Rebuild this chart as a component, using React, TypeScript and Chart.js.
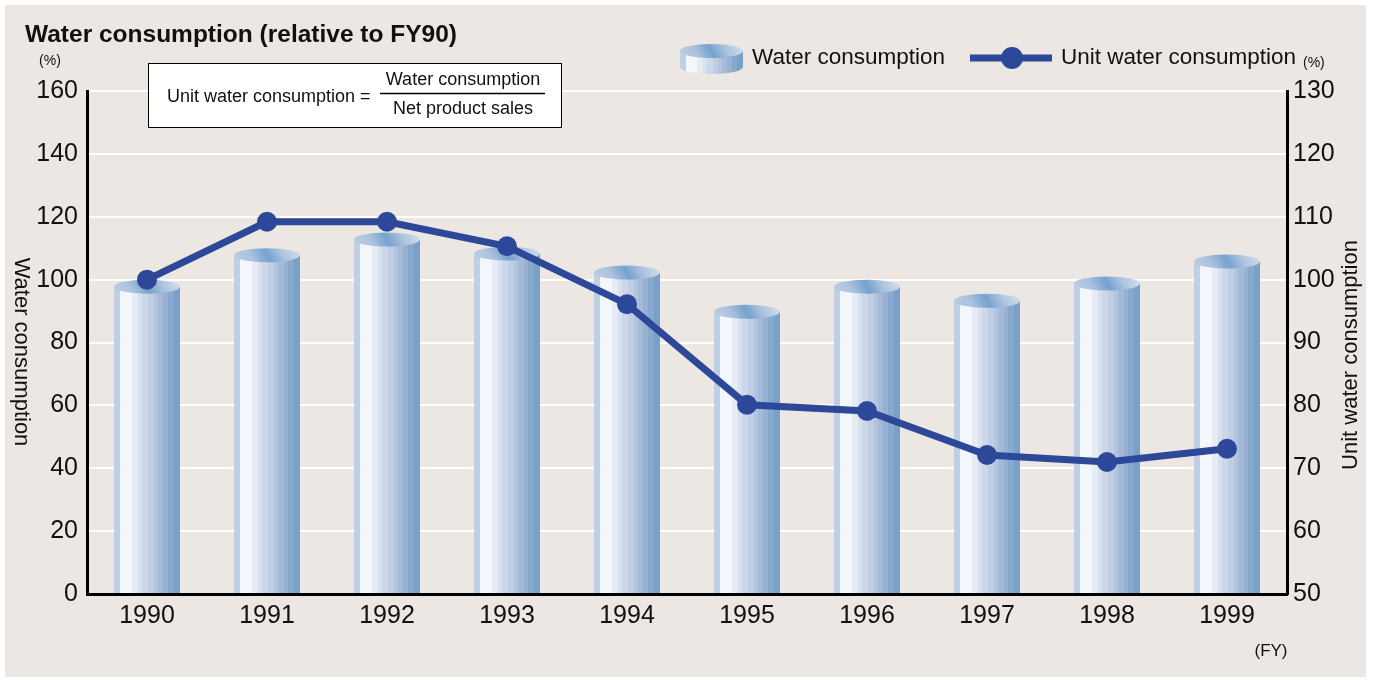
import React, { useEffect, useRef } from 'react';
import { Chart, registerables } from 'chart.js';

Chart.register(...registerables);

// ---- data ----
const years = ['1990', '1991', '1992', '1993', '1994', '1995', '1996', '1997', '1998', '1999'];
const waterConsumption = [100, 110, 115, 110.5, 104.5, 92, 100, 95.5, 101, 108];
const unitWaterConsumption = [100, 109.2, 109.2, 105.3, 96.1, 80.1, 79.1, 72.1, 71.0, 73.1];
const waterAxisRange = [0, 160, 20];
const unitAxisRange = [50, 130, 10];

// ---- styles ----
const FONT = '"Liberation Sans", Arial, Helvetica, sans-serif';
const BG = '#ece7e3';
const LINE = '#2e4899';
const TEXT = '#111111';

const bodyColors = ['#bfcfe4', '#f3f6fa', '#e7ecf4', '#d9e1ee', '#ccd7e9', '#c0cde4', '#b2c4de', '#a5bad8', '#97b1d2', '#89a8cd', '#78a0c9'];
const bodyEdges = [0, 0.09, 0.27, 0.36, 0.43, 0.52, 0.6, 0.67, 0.75, 0.82, 0.91, 1];

function drawCylinder(ctx: CanvasRenderingContext2D, cx: number, top: number, bottom: number, w: number, ry: number, bottomCurve: boolean) {
  const rx = w / 2;
  const left = cx - rx;
  const right = cx + rx;
  const cy = top + ry;
  const g = ctx.createLinearGradient(left, 0, right, 0);
  bodyColors.forEach((c, i) => {
    g.addColorStop(bodyEdges[i], c);
    g.addColorStop(bodyEdges[i + 1], c);
  });
  ctx.beginPath();
  ctx.moveTo(left, cy);
  ctx.lineTo(left, bottom);
  if (bottomCurve) {
    ctx.ellipse(cx, bottom, rx, ry, 0, Math.PI, 0, true);
  } else {
    ctx.lineTo(right, bottom);
  }
  ctx.lineTo(right, cy);
  ctx.closePath();
  ctx.fillStyle = g;
  ctx.fill();

  const tg = ctx.createLinearGradient(left, cy + ry * 2.5, right, cy - ry * 2.5);
  tg.addColorStop(0, '#c3d2e6');
  tg.addColorStop(0.3, '#abc2de');
  tg.addColorStop(0.5, '#76a2ce');
  tg.addColorStop(0.7, '#afc5df');
  tg.addColorStop(1, '#e2e8f1');
  ctx.beginPath();
  ctx.ellipse(cx, cy, rx, ry, 0, 0, Math.PI * 2);
  ctx.fillStyle = tg;
  ctx.fill();
}

const backgroundPlugin = {
  id: 'bgPanel',
  beforeDraw(chart: any) {
    const ctx = chart.ctx as CanvasRenderingContext2D;
    ctx.save();
    ctx.fillStyle = '#ffffff';
    ctx.fillRect(0, 0, chart.width, chart.height);
    ctx.fillStyle = BG;
    ctx.fillRect(5, 5, 1361, 672);
    ctx.restore();
  },
};

const cylinderPlugin = {
  id: 'cylinders',
  beforeDatasetDraw(chart: any, args: any) {
    const ds = chart.data.datasets[args.index];
    if (ds.type !== 'bar') return;
    const ctx = chart.ctx as CanvasRenderingContext2D;
    ctx.save();
    args.meta.data.forEach((el: any) => {
      const p = el.getProps(['x', 'y', 'base', 'width'], true);
      drawCylinder(ctx, p.x, p.y, p.base, p.width, 7, false);
    });
    ctx.restore();
    return false;
  },
};

const decorPlugin = {
  id: 'decor',
  afterDraw(chart: any) {
    const ctx = chart.ctx as CanvasRenderingContext2D;
    ctx.save();
    ctx.fillStyle = TEXT;
    ctx.textBaseline = 'middle';

    // title
    ctx.font = `bold 24.5px ${FONT}`;
    ctx.textAlign = 'left';
    ctx.fillText('Water consumption (relative to FY90)', 25, 35);

    // (%) left
    ctx.font = `14px ${FONT}`;
    ctx.textAlign = 'center';
    ctx.fillText('(%)', 50, 61);

    // formula box
    ctx.fillStyle = '#ffffff';
    ctx.fillRect(148, 63, 414, 65);
    ctx.strokeStyle = '#000000';
    ctx.lineWidth = 1;
    ctx.strokeRect(148.5, 63.5, 413, 64);
    ctx.fillStyle = TEXT;
    ctx.font = `18px ${FONT}`;
    ctx.textAlign = 'left';
    ctx.fillText('Unit water consumption =', 167, 97);
    ctx.textAlign = 'center';
    ctx.fillText('Water consumption', 463, 80);
    ctx.fillText('Net product sales', 463, 109);
    ctx.beginPath();
    ctx.moveTo(380, 93.5);
    ctx.lineTo(545, 93.5);
    ctx.lineWidth = 1.5;
    ctx.strokeStyle = '#000000';
    ctx.stroke();

    // legend
    drawCylinder(ctx, 711.5, 44, 67, 63, 7, true);
    ctx.fillStyle = TEXT;
    ctx.font = `22.5px ${FONT}`;
    ctx.textAlign = 'left';
    ctx.fillText('Water consumption', 752, 58);
    ctx.beginPath();
    ctx.moveTo(970, 58);
    ctx.lineTo(1052, 58);
    ctx.lineWidth = 7;
    ctx.strokeStyle = LINE;
    ctx.stroke();
    ctx.beginPath();
    ctx.arc(1012, 58, 11, 0, Math.PI * 2);
    ctx.fillStyle = LINE;
    ctx.fill();
    ctx.fillStyle = TEXT;
    ctx.fillText('Unit water consumption', 1061, 58);
    ctx.font = `14px ${FONT}`;
    ctx.fillText('(%)', 1303, 63);

    // axis titles
    ctx.font = `22px ${FONT}`;
    ctx.textAlign = 'center';
    ctx.save();
    ctx.translate(21, 352);
    ctx.rotate(Math.PI / 2);
    ctx.fillText('Water consumption', 0, 0);
    ctx.restore();
    ctx.save();
    ctx.translate(1351, 355);
    ctx.rotate(-Math.PI / 2);
    ctx.fillText('Unit water consumption', 0, 0);
    ctx.restore();

    // (FY)
    ctx.font = `17px ${FONT}`;
    ctx.fillText('(FY)', 1271, 651);
    ctx.restore();
  },
};

export default function App() {
  const canvasRef = useRef<HTMLCanvasElement | null>(null);

  useEffect(() => {
    if (!canvasRef.current) return;
    const tickFont = { family: FONT, size: 25 };
    const chart = new Chart(canvasRef.current, {
      type: 'bar',
      data: {
        labels: years,
        datasets: [
          {
            type: 'line',
            label: 'Unit water consumption',
            data: unitWaterConsumption,
            yAxisID: 'y1',
            borderColor: LINE,
            borderWidth: 7,
            pointRadius: 10,
            pointBackgroundColor: LINE,
            pointBorderWidth: 0,
            tension: 0,
            order: 1,
          } as any,
          {
            type: 'bar',
            label: 'Water consumption',
            data: waterConsumption,
            yAxisID: 'y',
            backgroundColor: 'rgba(0,0,0,0)',
            barPercentage: 0.55,
            categoryPercentage: 1,
            order: 2,
          } as any,
        ],
      },
      options: {
        responsive: false,
        animation: false,
        devicePixelRatio: 1,
        layout: { padding: { top: 91, left: 0, right: 0, bottom: 0 } },
        plugins: {
          legend: { display: false },
          tooltip: { enabled: false },
          title: { display: false },
        },
        scales: {
          x: {
            offset: true,
            grid: { display: false, drawTicks: false },
            border: { display: true, color: '#000000', width: 3, z: 1 },
            ticks: { font: tickFont, color: TEXT, padding: 7 },
            afterFit: (s: any) => { s.height = 86; },
          },
          y: {
            position: 'left',
            min: waterAxisRange[0],
            max: waterAxisRange[1],
            ticks: { stepSize: waterAxisRange[2], font: tickFont, color: TEXT, padding: 9 },
            grid: { color: '#ffffff', lineWidth: 2, drawTicks: false },
            border: { color: '#000000', width: 3 },
            afterFit: (s: any) => { s.width = 87; },
          },
          y1: {
            position: 'right',
            min: unitAxisRange[0],
            max: unitAxisRange[1],
            ticks: { stepSize: unitAxisRange[2], font: tickFont, color: TEXT, padding: 6 },
            grid: { drawOnChartArea: false, drawTicks: false },
            border: { color: '#000000', width: 3 },
            afterFit: (s: any) => { s.width = 88; },
          },
        },
      } as any,
      plugins: [backgroundPlugin, cylinderPlugin, decorPlugin],
    });
    return () => chart.destroy();
  }, []);

  return (
    <div style={{ position: 'fixed', left: 0, top: 0, width: 1375, height: 680 }}>
      <canvas ref={canvasRef} width={1375} height={680} style={{ display: 'block', width: 1375, height: 680 }} />
    </div>
  );
}
